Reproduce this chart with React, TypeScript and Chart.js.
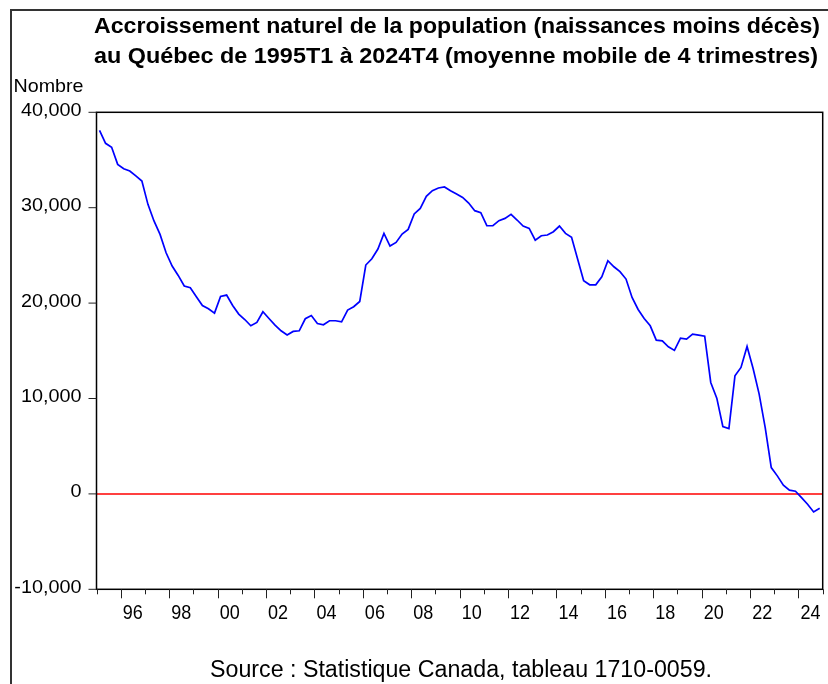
import React, { useEffect, useRef } from "react";
import { Chart, registerables } from "chart.js";

Chart.register(...registerables);

const titleLines = [
  "Accroissement naturel de la population (naissances moins décès)",
  "au Québec de 1995T1 à 2024T4 (moyenne mobile de 4 trimestres)",
];
const yAxisTitle = "Nombre";
const sourceText = "Source : Statistique Canada, tableau 1710-0059.";

const startYear = 1995;
const endYear = 2025;
const yTicks = [40000, 30000, 20000, 10000, 0, -10000];
const xLabelYears = [1996, 1998, 2000, 2002, 2004, 2006, 2008, 2010, 2012, 2014, 2016, 2018, 2020, 2022, 2024];

const values = [
  38100, 36750, 36330, 34540, 34090, 33850, 33330, 32800,
  30350, 28610, 27200, 25280, 23880, 22900, 21790, 21610,
  20670, 19750, 19410, 18950, 20700, 20840, 19750, 18850,
  18280, 17620, 17970, 19090, 18390, 17700, 17100, 16650,
  17030, 17100, 18360, 18700, 17860, 17730, 18150, 18150,
  18040, 19270, 19620, 20170, 23990, 24650, 25670, 27310,
  25980, 26360, 27240, 27730, 29340, 29930, 31190, 31780,
  32070, 32170, 31780, 31440, 31080, 30490, 29690, 29480,
  28110, 28110, 28640, 28880, 29300, 28710, 28080, 27830,
  26590, 27060, 27140, 27480, 28080, 27310, 26890, 24620,
  22340, 21920, 21920, 22760, 24440, 23810, 23290, 22520,
  20590, 19330, 18390, 17620, 16120, 16050, 15420, 15040,
  16330, 16230, 16750, 16650, 16540, 11680, 10040, 7060,
  6850, 12380, 13250, 15450, 13140, 10460, 6950, 2760,
  1890, 910, 390, 280, -390, -1080, -1890, -1500,
];

const quarterLabels = values.map(
  (_, i) => `${startYear + Math.floor(i / 4)}T${(i % 4) + 1}`
);

const FONT = '"Liberation Sans", Arial, sans-serif';

function fitText(
  ctx: CanvasRenderingContext2D,
  text: string,
  x: number,
  y: number,
  font: string,
  align: CanvasTextAlign,
  opts: { width?: number; sx?: number }
) {
  ctx.save();
  ctx.font = font;
  const w = ctx.measureText(text).width;
  const sx = opts.width ? opts.width / w : opts.sx ?? 1;
  ctx.translate(x, y);
  ctx.scale(sx, 1);
  ctx.textAlign = align;
  ctx.textBaseline = "alphabetic";
  ctx.fillStyle = "#000";
  ctx.fillText(text, 0, 0);
  ctx.restore();
}

const decor = {
  id: "decor",
  afterDraw(chart: any) {
    const ctx: CanvasRenderingContext2D = chart.ctx;
    const { left, right, top, bottom } = chart.chartArea;
    const xs = chart.scales.x;
    const ys = chart.scales.y;
    ctx.save();

    // outer frame
    ctx.strokeStyle = "#333";
    ctx.lineWidth = 2;
    ctx.strokeRect(11, 10, 830, 690);

    // plot border
    ctx.strokeStyle = "#000";
    ctx.lineWidth = 1.5;
    ctx.strokeRect(left, top, right - left, bottom - top);

    // y ticks + labels
    ctx.lineWidth = 1;
    ctx.strokeStyle = "#222";
    yTicks.forEach((v) => {
      const py = ys.getPixelForValue(v);
      ctx.beginPath();
      ctx.moveTo(left - 8, py);
      ctx.lineTo(left, py);
      ctx.stroke();
      fitText(ctx, v.toLocaleString("en-US"), 81.5, py + 3.5, `18px ${FONT}`, "right", { sx: 1.1 });
    });

    // x ticks
    for (let yr = startYear; yr <= endYear; yr++) {
      const px = Math.round(xs.getPixelForValue(yr)) + 0.5;
      const len = yr % 2 === 0 ? 9 : 5;
      ctx.beginPath();
      ctx.moveTo(px, bottom);
      ctx.lineTo(px, bottom + len);
      ctx.stroke();
    }
    xLabelYears.forEach((yr) => {
      const px = xs.getPixelForValue(yr + 0.5);
      const lab = String(yr % 100).padStart(2, "0");
      fitText(ctx, lab, px, 619, `20px ${FONT}`, "center", { sx: 0.9 });
    });

    // titles
    fitText(ctx, titleLines[0], 457, 33, `bold 22px ${FONT}`, "center", { width: 726 });
    fitText(ctx, titleLines[1], 456, 63, `bold 22px ${FONT}`, "center", { width: 724 });
    fitText(ctx, yAxisTitle, 13.5, 92, `19px ${FONT}`, "left", { width: 70 });
    fitText(ctx, sourceText, 461, 677, `23px ${FONT}`, "center", { width: 502 });

    ctx.restore();
  },
};

export default function App() {
  const ref = useRef<HTMLCanvasElement | null>(null);
  useEffect(() => {
    if (!ref.current) return;
    const chart = new Chart(ref.current, {
      type: "line",
      data: {
        labels: quarterLabels,
        datasets: [
          {
            label: "Accroissement naturel",
            data: values.map((v, i) => ({ x: startYear + (i + 0.5) / 4, y: v })),
            borderColor: "#0000ff",
            borderWidth: 1.7,
            pointRadius: 0,
            tension: 0,
            fill: false,
            order: 0,
          },
          {
            label: "zero",
            data: [
              { x: startYear, y: 0 },
              { x: endYear, y: 0 },
            ],
            borderColor: "#ff0000",
            borderWidth: 1.5,
            pointRadius: 0,
            fill: false,
            order: 1,
          },
        ],
      },
      options: {
        responsive: false,
        animation: false,
        events: [],
        layout: { padding: { left: 96.5, top: 112.3, right: 5.3, bottom: 94.7 } },
        scales: {
          x: { type: "linear", min: startYear, max: endYear, display: false },
          y: { type: "linear", min: -10000, max: 40000, display: false },
        },
        plugins: {
          legend: { display: false },
          tooltip: { enabled: false },
          title: { display: false },
        },
      },
      plugins: [decor],
    });
    return () => chart.destroy();
  }, []);
  return (
    <div style={{ position: "fixed", left: 0, top: 0, width: 828, height: 684, background: "#fff" }}>
      <canvas ref={ref} width={828} height={684} />
    </div>
  );
}
